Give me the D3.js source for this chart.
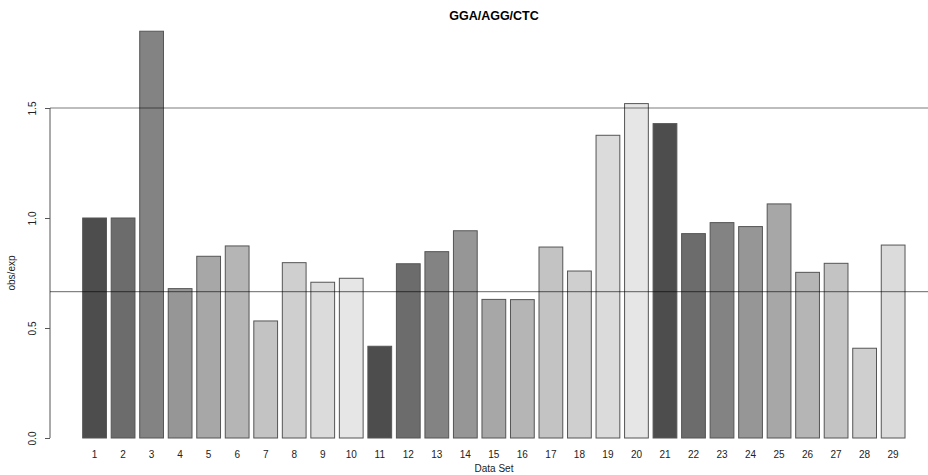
<!DOCTYPE html>
<html>
  <head>
    <meta charset="utf-8">
    <title>GGA/AGG/CTC</title>
    <style>
      body { margin: 0; background: #fff; }
      text { font-family: "Liberation Sans", Arial, sans-serif; }
    </style>
  </head>
  <body>
    <div id="chart"></div>
    <script src="https://cdnjs.cloudflare.com/ajax/libs/d3/7.8.5/d3.min.js"></script>
    <script>
    // data
    var dataSets = d3.range(1, 30);
    var obsExp = [1.0, 1.0, 1.849, 0.679, 0.826, 0.873, 0.532, 0.797, 0.708, 0.726,
                  0.417, 0.792, 0.847, 0.942, 0.630, 0.629, 0.868, 0.759, 1.376, 1.520,
                  1.429, 0.929, 0.979, 0.961, 1.064, 0.753, 0.794, 0.408, 0.877];
    var yTicks = [0.0, 0.5, 1.0, 1.5];
    var refLines = [1.5, 0.665];
    var grays = ['#4d4d4d', '#6c6c6c', '#838383', '#969696', '#a7a7a7',
                 '#b5b5b5', '#c3c3c3', '#cfcfcf', '#dbdbdb', '#e6e6e6'];

    var w = 928, h = 475;
    var svg = d3.select('#chart').append('svg').attr('width', w).attr('height', h);

    var y = d3.scaleLinear().domain([0, 1.5]).range([438, 108]);
    var x = d3.scaleBand().domain(dataSets).range([80.3, 907.4]).paddingInner(1/6).paddingOuter(1/12);

    // bars
    svg.append('g').selectAll('rect').data(obsExp).enter().append('rect')
      .attr('x', (d, i) => x(dataSets[i]))
      .attr('y', d => y(d))
      .attr('width', x.bandwidth())
      .attr('height', d => y(0) - y(d))
      .style('fill', (d, i) => grays[i % 10])
      .style('stroke', '#555')
      .style('stroke-width', 1);

    // y axis
    var yAxis = svg.append('g').attr('transform', 'translate(50,0)')
      .call(d3.axisLeft(y).tickValues(yTicks).tickSize(5).tickFormat(d3.format('.1f')));
    yAxis.select('.domain').attr('d', 'M0,' + y(0) + 'V' + y(1.5)).style('stroke', '#555');
    yAxis.selectAll('.tick line').style('stroke', '#555');
    yAxis.selectAll('.tick text')
      .attr('x', 0).attr('dy', 0)
      .attr('transform', 'translate(-14,0) rotate(-90)')
      .style('text-anchor', 'middle')
      .style('font-size', '10px')
      .style('fill', '#222');

    // x labels
    svg.append('g').selectAll('text').data(dataSets).enter().append('text')
      .attr('x', d => x(d) + x.bandwidth() / 2)
      .attr('y', 458)
      .style('text-anchor', 'middle')
      .style('font-size', '10px')
      .style('fill', '#222')
      .text(d => d);

    // reference lines on top of the bars
    svg.append('g').selectAll('line').data(refLines).enter().append('line')
      .attr('x1', 50).attr('x2', w)
      .attr('y1', d => y(d)).attr('y2', d => y(d))
      .style('stroke', (d, i) => i === 0 ? 'rgba(0,0,0,0.35)' : 'rgba(0,0,0,0.6)')
      .style('stroke-width', (d, i) => i === 0 ? 1.5 : 1);

    svg.append('text').attr('x', 494).attr('y', 20)
      .style('text-anchor', 'middle').style('font-weight', 'bold').style('font-size', '12.5px')
      .text('GGA/AGG/CTC');

    svg.append('text').attr('x', 494).attr('y', 472)
      .style('text-anchor', 'middle').style('font-size', '10px').style('fill', '#222')
      .text('Data Set');

    svg.append('text').attr('transform', 'translate(15,' + y(0.75) + ') rotate(-90)')
      .style('text-anchor', 'middle').style('font-size', '10px').style('fill', '#222')
      .text('obs/exp');
    </script>
  </body>
</html>
